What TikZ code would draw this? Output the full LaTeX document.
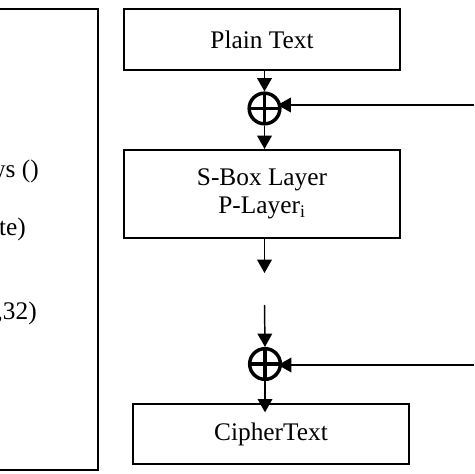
\documentclass[tikz,border=0pt]{standalone}
\usepackage{fontspec}
\setmainfont{Liberation Serif}
\usetikzlibrary{arrows.meta,calc}

\begin{document}
\begin{tikzpicture}[x=0.75pt,y=-0.75pt]
	\path [use as bounding box] (0,0) rectangle (474,474);
	\clip (0,0) rectangle (474,474);
	\tikzstyle{every node} = [font=\fontsize{19}{20.5}\selectfont]
	\tikzstyle{block} = [draw, line width=1.5pt, minimum width=207pt, align=center]
	\tikzstyle{xorop} = [circle, draw, line width=2.6pt, minimum size=23pt, inner sep=0pt,
		path picture={\draw[line width=2.6pt] (path picture bounding box.north) -- (path picture bounding box.south)
			(path picture bounding box.west) -- (path picture bounding box.east);}]
	\tikzstyle{flow} = [line width=1.1pt, -{Triangle[length=10pt,width=11pt]}]
	\tikzstyle{cut} = [anchor=east, inner sep=0pt]
	% round keys panel, cut off at the left
	\draw[line width=1.5pt] (-20,9.5) rectangle (97.5,470);
	\node[cut] (t1) at (39,171) {ws ()};
	\node[cut] (t2) at (26,229) {te)};
	\node[cut] (t3) at (37,313) {,32)};
	% one round
	\node[block, minimum height=45.75pt] (plain) at (262,39.5) {Plain Text};
	\node[xorop] (xor1) at (264.5,108.5) {};
	\node[block, minimum height=66pt] (sbox) at (262,194) {S-Box Layer\\P-Layer\textsubscript{i}};
	\coordinate (out) at (264.5,273);
	\coordinate (in) at (264.5,305);
	\node[xorop] (xor2) at (265,364) {};
	\node[block, minimum height=45pt] (cipher) at (271,434) {CipherText};
	\coordinate (k1) at (474,105);
	\coordinate (k2) at (474,365);
	\draw[flow] (xor1 |- plain.south) -- (xor1.north);
	\draw[flow] (xor1.south) -- (xor1 |- sbox.north);
	\draw[flow] (xor1 |- sbox.south) -- (out);
	\draw[flow] (in) -- (xor2.north);
	\draw[flow, shorten >=-7pt] (xor2.south) -- (xor2 |- cipher.north);
	\draw[flow, shorten >=-3pt] (k1) -- (k1 -| xor1.east);
	\draw[flow, shorten >=-3pt] (k2) -- (k2 -| xor2.east);
\end{tikzpicture}
\end{document}
